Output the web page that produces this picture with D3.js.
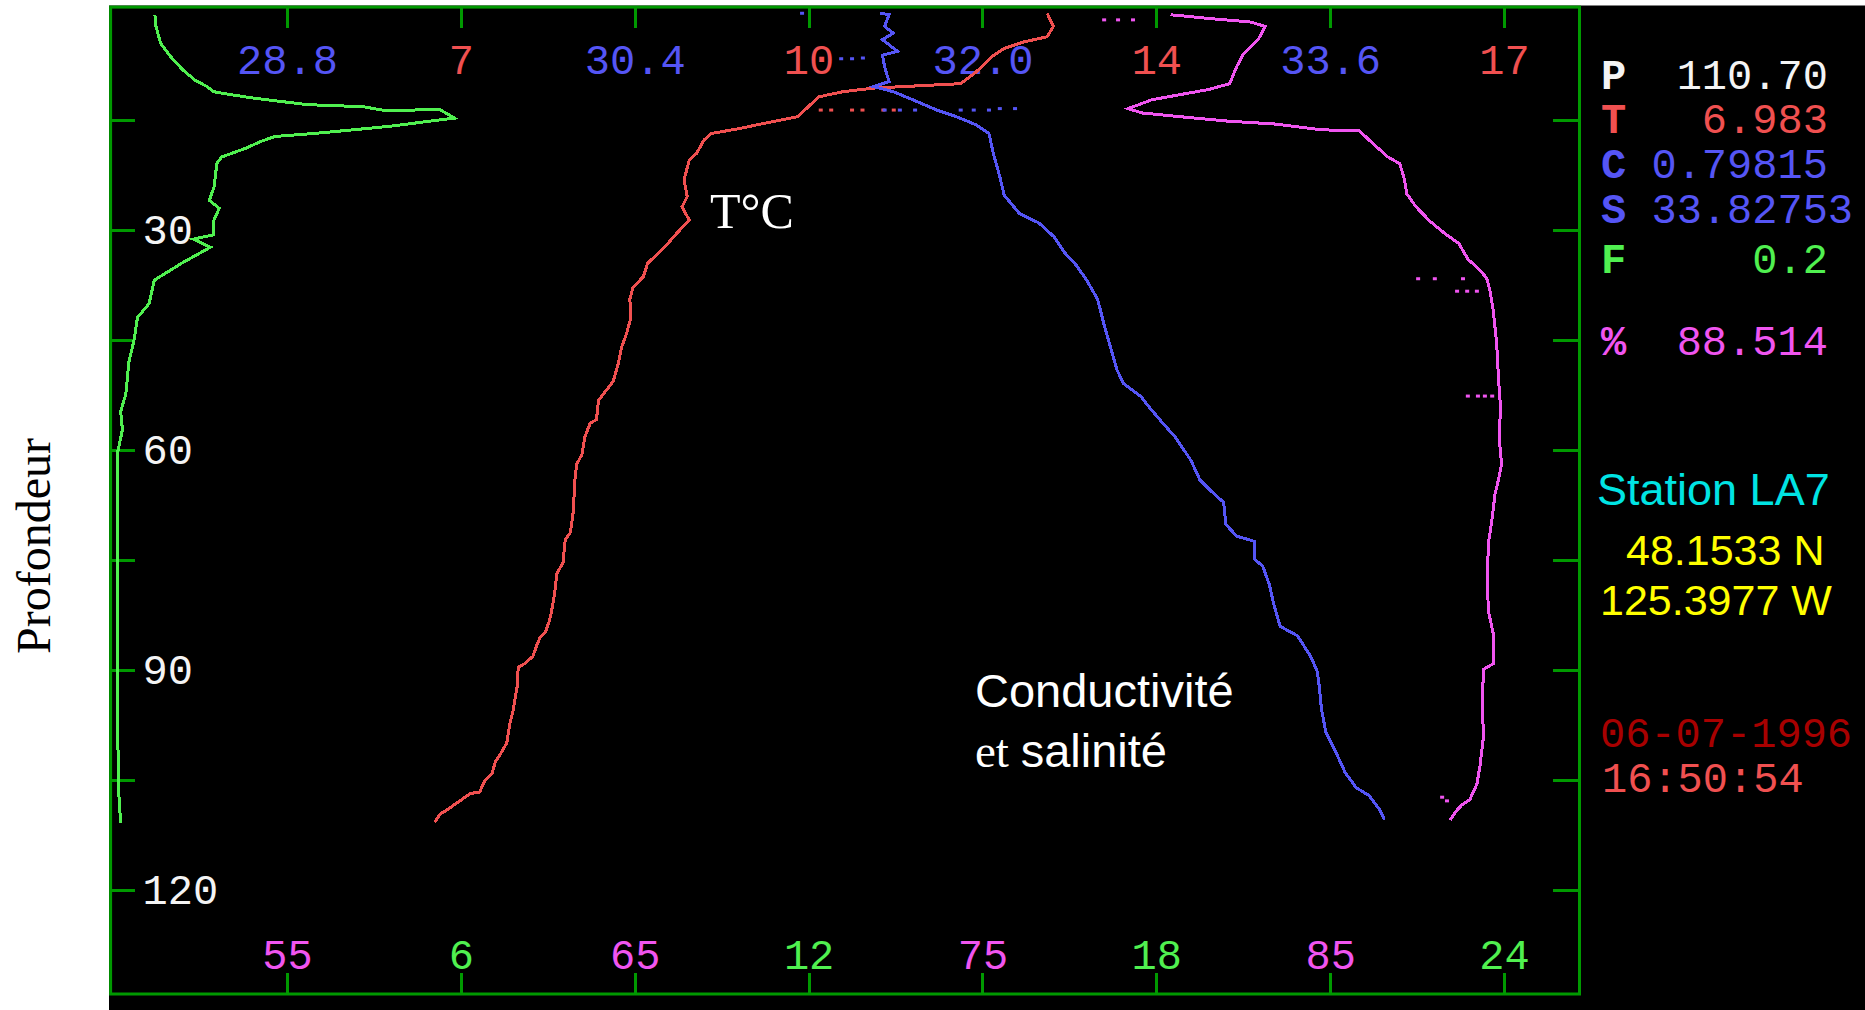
<!DOCTYPE html>
<html lang="fr">
<head>
<meta charset="UTF-8">
<title>Profil CTD - Station LA7</title>
<script src="https://d3js.org/d3.v7.min.js"></script>
<style>
  body { margin: 0; background: #fff; }
  svg { display: block; }
  .mono { font-family: "Liberation Mono", "DejaVu Sans Mono", monospace; font-size: 42px; white-space: pre; }
  .axis .domain { display: none; }
  .axis line { stroke: #009900; stroke-width: 3; shape-rendering: crispEdges; }
  .trace { fill: none; stroke-width: 3; stroke-linejoin: miter; shape-rendering: crispEdges; }
</style>
</head>
<body>
<svg id="chart" width="1865" height="1010"></svg>
<script>
// ---- data ----
const depthTicks = [15, 30, 45, 60, 75, 90, 105, 120];

const salTicks = [28.8, 30.4, 32.0, 33.6];
const salTickLabels = ["28.8", "30.4", "32.0", "33.6"];
const tempTicks = [7, 10.333, 13.667, 17];
const tempTickLabels = ["7", "10", "14", "17"];
const oxyTicks = [55, 65, 75, 85];
const oxyTickLabels = ["55", "65", "75", "85"];
const fluoTicks = [6, 12, 18, 24];
const fluoTickLabels = ["6", "12", "18", "24"];

// [depth, fluorescence]
const fluoProfile = [
  [0.7,0.72],[2.3,0.74],[4.6,0.82],[6.4,0.99],[8.2,1.20],[9.6,1.41],[10.5,1.62],[11.2,1.74],
  [11.5,1.95],[12.1,2.45],[12.9,3.29],[13.1,3.71],[13.2,4.29],[13.8,4.71],[13.6,5.63],[14.8,5.89],
  [15.3,5.38],[15.9,4.79],[16.4,4.13],[16.9,3.46],[17.3,2.79],[18.0,2.54],[18.9,2.29],[20.1,1.87],
  [21.0,1.79],[24.2,1.74],[26.0,1.66],[27.1,1.83],[28.7,1.74],[30.7,1.74],[31.3,1.38],[32.4,1.68],
  [34.5,1.20],[36.9,0.71],[40.1,0.62],[42.0,0.42],[45.1,0.36],[48.1,0.27],[52.4,0.22],[54.8,0.13],
  [57.3,0.16],[60.3,0.08],[68.9,0.07],[81.0,0.07],[99.3,0.08],[107.2,0.10],[110.9,0.13]
];

// [depth, temperature]
const tempProfile = [
  [0.5,12.62],[2.3,12.68],[3.7,12.62],[4.4,12.40],[5.3,12.21],[6.4,12.09],[8.5,11.94],[10.1,11.79],
  [10.7,10.96],[11.2,10.66],[11.9,10.43],[14.6,10.23],[15.5,9.91],[16.2,9.68],[16.9,9.40],[17.8,9.33],
  [19.6,9.26],[20.5,9.19],[23.2,9.14],[25.5,9.17],[26.9,9.12],[28.7,9.19],[30.5,9.07],[32.3,8.96],
  [34.6,8.79],[36.4,8.75],[37.9,8.65],[39.5,8.62],[42.0,8.63],[44.1,8.59],[46.1,8.54],[48.2,8.51],
  [50.7,8.46],[51.8,8.40],[53.3,8.32],[55.9,8.30],[56.4,8.24],[58.2,8.19],[60.7,8.16],[62.0,8.11],
  [64.6,8.09],[68.2,8.08],[71.3,8.05],[72.3,8.00],[75.4,7.98],[76.9,7.92],[79.5,7.90],[82.0,7.87],
  [83.3,7.85],[84.9,7.81],[85.6,7.76],[86.6,7.73],[88.2,7.69],[89.2,7.61],[89.7,7.55],[92.3,7.54],
  [95.6,7.50],[97.4,7.47],[100.0,7.44],[101.5,7.38],[102.6,7.33],[104.1,7.30],[105.1,7.23],[106.7,7.18],
  [106.9,7.09],[107.7,7.01],[108.5,6.93],[109.2,6.86],[109.7,6.80],[110.8,6.75]
];

// [depth, salinity]
const salProfile = [
  [0.5,31.53],[0.7,31.57],[2.3,31.55],[3.2,31.59],[4.1,31.54],[5.7,31.61],[6.2,31.54],[7.8,31.55],
  [9.8,31.57],[10.5,31.50],[11.2,31.59],[12.3,31.68],[13.7,31.79],[14.6,31.88],[15.7,31.97],[16.9,32.03],
  [19.6,32.05],[22.8,32.08],[25.3,32.10],[27.8,32.17],[29.1,32.26],[31.0,32.33],[33.2,32.38],[34.8,32.43],
  [36.9,32.48],[39.5,32.53],[43.0,32.56],[46.1,32.59],[49.2,32.62],[51.0,32.65],[52.8,32.73],[54.3,32.77],
  [56.4,32.83],[58.4,32.89],[61.5,32.96],[64.1,33.00],[65.6,33.05],[67.2,33.11],[70.2,33.12],[71.8,33.17],
  [72.5,33.25],[74.9,33.25],[75.9,33.29],[78.4,33.32],[81.0,33.34],[84.1,33.37],[85.4,33.45],[88.2,33.51],
  [90.2,33.54],[92.3,33.55],[95.4,33.56],[98.5,33.58],[101.5,33.63],[104.1,33.67],[106.1,33.72],[107.2,33.78],
  [109.2,33.83],[110.5,33.85]
];

// [depth, oxygen saturation %]
const oxyProfile = [
  [0.7,80.41],[1.2,81.50],[1.7,82.72],[2.3,83.13],[4.1,82.93],[6.0,82.51],[7.8,82.31],[10.1,82.11],
  [10.9,81.50],[11.6,80.68],[12.3,79.87],[13.5,79.19],[14.1,79.60],[14.6,80.68],[15.2,82.04],[15.6,83.40],
  [16.4,84.76],[16.5,85.84],[17.8,86.12],[20.1,86.66],[21.0,87.00],[23.2,87.14],[25.1,87.20],[26.9,87.47],
  [28.9,87.88],[30.5,88.29],[31.9,88.70],[34.1,88.97],[35.1,89.22],[36.6,89.50],[38.4,89.60],[41.0,89.69],
  [45.6,89.79],[50.2,89.84],[54.3,89.90],[58.4,89.86],[62.0,89.93],[64.1,89.84],[66.1,89.74],[69.7,89.65],
  [72.8,89.55],[77.9,89.52],[82.0,89.55],[85.1,89.69],[89.2,89.69],[90.0,89.40],[94.4,89.39],[99.5,89.40],
  [103.1,89.31],[105.6,89.22],[107.7,89.02],[108.5,88.78],[109.2,88.64],[110.5,88.45]
];

// isolated samples left by the trace
const salDots = [[0.5,31.17],[6.7,31.35],[6.7,31.40],[6.6,31.45],[13.7,31.55],[13.7,31.62],[13.7,31.69],
  [13.7,31.90],[13.7,31.96],[13.7,32.03],[13.5,32.08],[13.5,32.15]];
const tempDots = [[13.7,10.45],[13.7,10.55],[13.7,10.75],[13.7,10.85],[13.7,11.05],[13.7,11.15]];
const oxyDots = [[1.4,78.50],[1.4,78.90],[1.4,79.33],[36.7,87.53],[36.7,88.01],[36.7,88.82],[38.4,88.65],
  [38.4,88.94],[38.4,89.22],[52.7,88.96],[52.7,89.25],[52.7,89.45],[52.7,89.66],[107.4,88.22],[107.9,88.36]];

const readoutKeys = ["P", "T", "C", "S", "F", "%"];
const readoutValues = ["110.70", "6.983", "0.79815", "33.82753", "0.2", "88.514"];
const stationLines = ["Station LA7", "48.1533 N", "125.3977 W"];
const stamp = ["06-07-1996", "16:50:54"];

// ---- layout ----
const W = 1865, H = 1010;
const frame = {left: 110.6, top: 7.1, right: 1579.5, bottom: 994};
const col = {frame: "#009900", green: "#50f050", red: "#f05050", blue: "#5555f5", magenta: "#f055f0",
  white: "#f4f4f4", cyan: "#00e4e4", yellow: "#ffff00", darkred: "#a80000"};

const svg = d3.select("#chart");

svg.append("rect").attr("x", 109).attr("y", 5.5)
  .attr("width", W - 109).attr("height", H - 5.5).attr("fill", "#000");

// scales: one depth scale, four value scales sharing the tick grid
const step = 173.86, x0 = 287;
const y = d3.scaleLinear().domain([0, 120]).range([9.6, 889.6]);
const xSal = d3.scaleLinear().domain([28.8, 33.6]).range([x0, x0 + 6 * step]);
const xTemp = d3.scaleLinear().domain([7, 17]).range([x0 + step, x0 + 7 * step]);
const xOxy = d3.scaleLinear().domain([55, 85]).range([x0, x0 + 6 * step]);
const xFluo = d3.scaleLinear().domain([6, 24]).range([x0 + step, x0 + 7 * step]);

function topAxis(scale, ticks, labels, color) {
  const g = svg.append("g").attr("class", "axis mono")
    .attr("transform", `translate(0,${frame.top})`)
    .call(d3.axisTop(scale).tickValues(ticks).tickFormat((d, i) => labels[i]).tickSize(-21));
  g.selectAll("text").attr("y", 67).attr("dy", null).attr("fill", color);
}
function bottomAxis(scale, ticks, labels, color) {
  const g = svg.append("g").attr("class", "axis mono")
    .attr("transform", `translate(0,${frame.bottom})`)
    .call(d3.axisBottom(scale).tickValues(ticks).tickFormat((d, i) => labels[i]).tickSize(-21));
  g.selectAll("text").attr("y", -25).attr("dy", null).attr("fill", color);
}

topAxis(xSal, salTicks, salTickLabels, col.blue);
topAxis(xTemp, tempTicks, tempTickLabels, col.red);
bottomAxis(xOxy, oxyTicks, oxyTickLabels, col.magenta);
bottomAxis(xFluo, fluoTicks, fluoTickLabels, col.green);

const left = svg.append("g").attr("class", "axis mono")
  .attr("transform", `translate(${frame.left},0)`)
  .call(d3.axisRight(y).tickValues(depthTicks).tickSize(24).tickPadding(8)
    .tickFormat(d => d % 30 === 0 ? d : ""));
left.selectAll("text").attr("fill", col.white);

svg.append("g").attr("class", "axis")
  .attr("transform", `translate(${frame.right},0)`)
  .call(d3.axisLeft(y).tickValues(depthTicks).tickSize(27).tickFormat(""));

svg.append("rect")
  .attr("x", frame.left).attr("y", frame.top)
  .attr("width", frame.right - frame.left).attr("height", frame.bottom - frame.top)
  .attr("fill", "none").attr("stroke", col.frame).attr("stroke-width", 3);

// ---- traces ----
const traces = [
  {data: fluoProfile, dots: [], x: xFluo, color: col.green},
  {data: tempProfile, dots: tempDots, x: xTemp, color: col.red},
  {data: salProfile, dots: salDots, x: xSal, color: col.blue},
  {data: oxyProfile, dots: oxyDots, x: xOxy, color: col.magenta}
];

traces.forEach(t => {
  const line = d3.line().x(d => t.x(d[1])).y(d => y(d[0]));
  svg.append("path").datum(t.data)
    .attr("class", "trace").attr("stroke", t.color).attr("d", line);
  svg.selectAll(null).data(t.dots).enter().append("rect")
    .attr("x", d => t.x(d[1]) - 2).attr("y", d => y(d[0]) - 1.5)
    .attr("width", 4).attr("height", 3).attr("fill", t.color);
});

// ---- annotations ----
svg.append("text")
  .attr("transform", "translate(50,546) rotate(-90)")
  .attr("text-anchor", "middle")
  .attr("font-family", "Liberation Serif, Times New Roman, serif")
  .attr("font-size", 48).attr("fill", "#000")
  .text("Profondeur");

svg.append("text").attr("x", 710).attr("y", 228)
  .attr("font-family", "Liberation Serif, Times New Roman, serif")
  .attr("font-size", 50).attr("fill", "#fff").text("T°C");

svg.append("text").attr("x", 975).attr("y", 707)
  .attr("font-family", "Liberation Sans, Arial, sans-serif")
  .attr("font-size", 47).attr("fill", "#fff").text("Conductivité");
const et = svg.append("text").attr("x", 975).attr("y", 767)
  .attr("font-size", 47).attr("fill", "#fff");
et.append("tspan").attr("font-family", "Liberation Serif, Times New Roman, serif").text("et ");
et.append("tspan").attr("font-family", "Liberation Sans, Arial, sans-serif").text("salinité");

// ---- readout panel ----
const readoutY = [88.6, 132.6, 177.8, 223, 273, 355];
const readoutColor = [col.white, col.red, col.blue, col.blue, col.green, col.magenta];
readoutKeys.forEach((k, i) => {
  const t = svg.append("text").attr("class", "mono")
    .attr("x", 1601).attr("y", readoutY[i]).attr("fill", readoutColor[i]);
  t.append("tspan").attr("font-weight", "bold").text(k);
  t.append("tspan").text(" " + readoutValues[i].padStart(7, " "));
});

svg.append("text").attr("x", 1597).attr("y", 505)
  .attr("font-family", "Liberation Sans, Arial, sans-serif")
  .attr("font-size", 45).attr("fill", col.cyan).text(stationLines[0]);
svg.append("text").attr("x", 1626).attr("y", 565)
  .attr("font-family", "Liberation Sans, Arial, sans-serif")
  .attr("font-size", 43).attr("fill", col.yellow).text(stationLines[1]);
svg.append("text").attr("x", 1600).attr("y", 615)
  .attr("font-family", "Liberation Sans, Arial, sans-serif")
  .attr("font-size", 43).attr("fill", col.yellow).text(stationLines[2]);

svg.append("text").attr("class", "mono").attr("x", 1600).attr("y", 747)
  .attr("fill", col.darkred).text(stamp[0]);
svg.append("text").attr("class", "mono").attr("x", 1602).attr("y", 792)
  .attr("fill", col.red).text(stamp[1]);
</script>
</body>
</html>
